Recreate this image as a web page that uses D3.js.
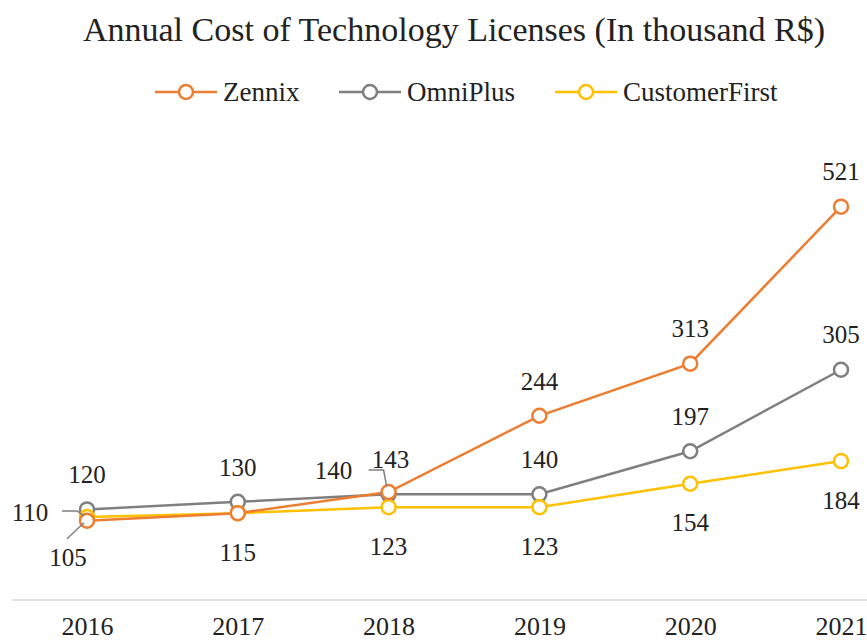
<!DOCTYPE html>
<html lang="en">
<head>
    <meta charset="UTF-8">
    <title>Annual Cost of Technology Licenses</title>
    <script src="https://cdn.jsdelivr.net/npm/d3@7/dist/d3.min.js"></script>
    <style>
        body { margin: 0; background: #fff; }
        text { font-family: "Liberation Serif", "Times New Roman", serif; fill: #222; }
    </style>
</head>
<body>
<div id="chart"></div>
<script>

    const years = ["2016", "2017", "2018", "2019", "2020", "2021"];
    const zennix = [105, 115, 143, 244, 313, 521];
    const omniPlus = [120, 130, 140, 140, 197, 305];
    const customerFirst = [110, 115, 123, 123, 154, 184];

    const series = [
        {name: "Zennix", values: zennix, color: "#ED7D31", labelPos: "above"},
        {name: "OmniPlus", values: omniPlus, color: "#7F7F7F", labelPos: "above"},
        {name: "CustomerFirst", values: customerFirst, color: "#FFC000", labelPos: "below"}
    ];

    const width = 867;
    const height = 644;

    const svg = d3.select("#chart")
        .append("svg")
        .attr("width", width)
        .attr("height", height);

    const x = d3.scalePoint()
        .domain(years)
        .range([87, 841]);

    const y = d3.scaleLinear()
        .domain([0, 600])
        .range([600, 147]);

    // title
    svg.append("text")
        .attr("x", 454)
        .attr("y", 41)
        .attr("text-anchor", "middle")
        .style("font-size", "34px")
        .text("Annual Cost of Technology Licenses (In thousand R$)");

    // legend
    const legendX = [155, 339, 555];
    const legend = svg.append("g")
        .selectAll("g")
        .data(series)
        .join("g")
        .attr("transform", (d, i) => `translate(${legendX[i]},92)`);
    legend.append("line")
        .attr("x1", 0).attr("x2", 62)
        .attr("stroke", d => d.color)
        .attr("stroke-width", 2.5);
    legend.append("circle")
        .attr("cx", 31).attr("r", 7)
        .attr("fill", "#fff")
        .attr("stroke", d => d.color)
        .attr("stroke-width", 2.5);
    legend.append("text")
        .attr("x", 68)
        .attr("dy", "0.35em")
        .style("font-size", "27px")
        .text(d => d.name);

    // x axis
    const xAxis = svg.append("g")
        .attr("transform", `translate(0,${y(0)})`)
        .call(d3.axisBottom(x).tickSize(0).tickPadding(17));
    xAxis.select(".domain")
        .attr("d", `M12,0H${width}`)
        .attr("stroke", "#d9d9d9")
        .attr("stroke-width", 1.5);
    xAxis.selectAll("text")
        .attr("fill", "#222")
        .style("font-size", "26px")
        .style("font-family", "'Liberation Serif', serif");

    // lines
    const line = d3.line()
        .x((d, i) => x(years[i]))
        .y(d => y(d));

    const plot = svg.append("g");
    // draw in reverse order so Zennix sits on top like the original
    [2, 1, 0].forEach(si => {
        const s = series[si];
        plot.append("path")
            .datum(s.values)
            .attr("d", line)
            .attr("fill", "none")
            .attr("stroke", s.color)
            .attr("stroke-width", 2.5);
    });
    [1, 2, 0].forEach(si => {
        const s = series[si];
        plot.append("g")
            .selectAll("circle")
            .data(s.values)
            .join("circle")
            .attr("cx", (d, i) => x(years[i]))
            .attr("cy", d => y(d))
            .attr("r", 7)
            .attr("fill", "#fff")
            .attr("stroke", s.color)
            .attr("stroke-width", 2.5);
    });

    // data labels
    const labels = svg.append("g");
    series.forEach((s, si) => {
        s.values.forEach((v, i) => {
            // Zennix 2017 label is hidden behind the CustomerFirst one in the original
            if (si === 0 && i === 1) return;
            const px = x(years[i]);
            const py = y(v);
            let lx = px;
            let ly = s.labelPos === "above" ? py - 35 : py + 39;
            let leader = null;
            if (si === 0 && i === 0) {
                lx = px - 19; ly = py + 37;
                leader = [[px - 20, py + 18], [px - 3, py + 2]];
            }
            if (si === 2 && i === 0) {
                lx = px - 57; ly = py - 5;
                leader = [[px - 25, py - 6], [px - 10, py - 6], [px - 3, py - 1]];
            }
            if (si === 1 && i === 2) { lx = px - 55; ly = py - 24; }
            if (si === 0 && i === 2) {
                lx = px + 2; ly = py - 33;
                leader = [[px - 20, py - 22], [px - 5, py - 22], [px - 2, py - 6]];
            }
            labels.append("text")
                .attr("x", lx)
                .attr("y", ly)
                .attr("text-anchor", "middle")
                .attr("dy", "0.35em")
                .style("font-size", "25px")
                .text(v);
            if (leader) {
                labels.append("path")
                    .attr("d", d3.line()(leader))
                    .attr("fill", "none")
                    .attr("stroke", "#7F7F7F")
                    .attr("stroke-width", 1.5);
            }
        });
    });

</script>
</body>
</html>
